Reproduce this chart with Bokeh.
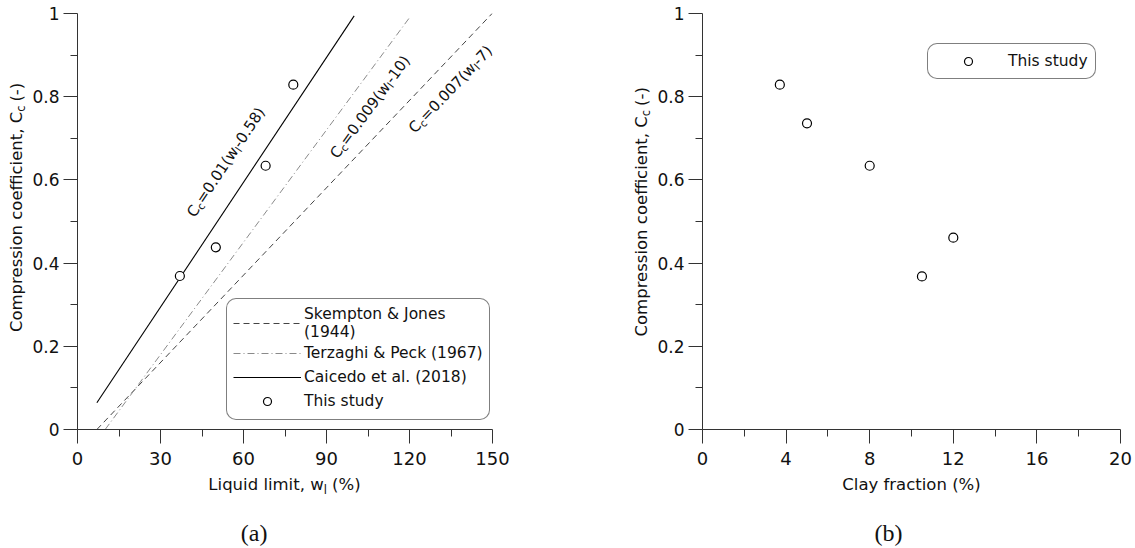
import math
from bokeh.plotting import figure
from bokeh.layouts import row, column
from bokeh.models import Legend, LegendItem, FixedTicker
from bokeh.core.properties import value
from bokeh.embed import file_html
from bokeh.resources import INLINE

# ---------------- data ----------------
wl_ticks = [0, 30, 60, 90, 120, 150]
wl_minor = [15, 45, 75, 105, 135]
clay_ticks = [0, 4, 8, 12, 16, 20]
clay_minor = [2, 6, 10, 14, 18]
cc_ticks = [0, 0.2, 0.4, 0.6, 0.8, 1]
cc_tick_labels = ["0", "0.2", "0.4", "0.6", "0.8", "1"]
cc_minor = [0.1, 0.3, 0.5, 0.7, 0.9]

skempton_wl = [7, 150]
skempton_cc = [0.0, 1.001]
terzaghi_wl = [10, 120]
terzaghi_cc = [0.0, 0.99]
caicedo_wl = [7, 100]
caicedo_cc = [0.0642, 0.9942]

study_wl = [37, 50, 68, 78]
study_cc_a = [0.369, 0.438, 0.634, 0.829]
study_clay = [3.7, 5.0, 8.0, 10.5, 12.0]
study_cc_b = [0.829, 0.736, 0.634, 0.368, 0.461]

legend_labels_a = ["Skempton & Jones\n(1944)", "Terzaghi & Peck (1967)", "Caicedo et al. (2018)", "This study"]
legend_label_b = "This study"

FONT = "DejaVu Sans"
TXT = "#111111"

# DejaVu Sans advance widths (em)
W = {' ': .318, '(': .390, ')': .390, '-': .361, '.': .318, ',': .318, '=': .838, '%': .950,
     'C': .698, 'L': .557, 'c': .550, 'd': .635, 'e': .615, 'f': .352, 'i': .278, 'l': .278,
     'm': .974, 'n': .634, 'o': .612, 'p': .635, 'q': .635, 'r': .411, 's': .521, 't': .392,
     'u': .634, 'w': .818, 'y': .592, 'a': .613, 'b': .635}
for d in "0123456789":
    W[d] = .636


def twidth(s, size):
    return sum(W.get(ch, .6) for ch in s) * size


def to_data(fr, px, py):
    x = fr['x0'] + (px - fr['left']) / (fr['right'] - fr['left']) * (fr['x1'] - fr['x0'])
    y = fr['y0'] + (fr['bottom'] - py) / (fr['bottom'] - fr['top']) * (fr['y1'] - fr['y0'])
    return x, y


def put(p, fr, px, py, t, th, align, fs, font):
    x, y = to_data(fr, px, py)
    p.text(x=[x], y=[y], text=[t], angle=th, text_align=align, text_baseline="alphabetic",
           text_font=value(font), text_font_size=value(f"{fs:.1f}px"), text_color=TXT)


def rich(p, fr, pieces, px, py, angle_deg, size, center=False, font=FONT, lift=0.35, sub=0.22):
    """pieces: (text, is_subscript). A normal piece followed by a subscript is
    right-aligned at the subscript's anchor.  'lift' compensates the renderer's
    downward baseline offset (fraction of the font size)."""
    th = math.radians(angle_deg)
    ux, uy = math.cos(th), -math.sin(th)
    dx, dy = math.sin(th), math.cos(th)
    sizes = [size * (0.7 if s else 1) for _, s in pieces]
    widths = [twidth(t, fs) for (t, _), fs in zip(pieces, sizes)]
    total = sum(widths)
    if center:
        px -= ux * total / 2
        py -= uy * total / 2
    adv = 0.0
    for i, ((t, s), fs, w) in enumerate(zip(pieces, sizes, widths)):
        off = (size * sub if s else 0) - lift * fs
        nxt_sub = i + 1 < len(pieces) and pieces[i + 1][1]
        if nxt_sub and not s:
            a = adv + w
            put(p, fr, px + ux * a + dx * off, py + uy * a + dy * off, t, th, "right", fs, font)
        else:
            lead = len(t) - len(t.lstrip(" "))
            a = adv + twidth(" " * lead, fs)
            put(p, fr, px + ux * a + dx * off, py + uy * a + dy * off, t.lstrip(" "), th, "left", fs, font)
        adv += w


def style(p, xt, xm):
    p.xaxis.ticker = FixedTicker(ticks=xt, minor_ticks=xm)
    p.yaxis.ticker = FixedTicker(ticks=cc_ticks, minor_ticks=cc_minor)
    p.yaxis.major_label_overrides = dict(zip(cc_ticks, cc_tick_labels))
    p.xgrid.visible = False
    p.ygrid.visible = False
    p.outline_line_color = None
    for ax in list(p.xaxis) + list(p.yaxis):
        ax.major_tick_out = 14
        ax.major_tick_in = 0
        ax.minor_tick_out = 7
        ax.minor_tick_in = 0
        ax.axis_line_color = "#333333"
        ax.major_tick_line_color = "#333333"
        ax.minor_tick_line_color = "#333333"
        ax.major_label_text_font = FONT
        ax.major_label_text_color = TXT
    p.xaxis.major_label_text_font_size = "18px"
    p.yaxis.major_label_text_font_size = "17px"
    p.yaxis.major_label_standoff = 4
    p.xaxis.major_label_standoff = 8


def text_fig(w, h):
    f = figure(width=w, height=h, x_range=(0, w), y_range=(0, h), x_axis_type=None, y_axis_type=None,
               output_backend="svg", toolbar_location=None, min_border=0, title=None)
    f.outline_line_color = None
    return f, dict(left=0, right=w, top=0, bottom=h, x0=0, x1=w, y0=0, y1=h)


def line_angle(fr, xs, ys):
    sx = (fr['right'] - fr['left']) / (fr['x1'] - fr['x0'])
    sy = (fr['bottom'] - fr['top']) / (fr['y1'] - fr['y0'])
    return math.degrees(math.atan2((ys[1] - ys[0]) * sy, (xs[1] - xs[0]) * sx))


PH = 473      # plot height (page rows 0..473)
BL = 49       # left border of the plots
YA = 77 - BL          # width of y-label strip (a): page cols 0..28
YB = 702 - 567 - BL   # width of y-label strip (b): page cols 567..653

# ---------------- figure (a) ----------------
# frame at page 77..492 x 13..429
FA = dict(left=BL, right=BL + 415, top=13, bottom=429, x0=0, x1=150, y0=0, y1=1)
pa = figure(width=567 - YA, height=PH, x_range=(0, 150), y_range=(0, 1), output_backend="svg",
            toolbar_location=None, min_border_left=BL, min_border_right=75, min_border_top=13,
            min_border_bottom=PH - 429)
style(pa, wl_ticks, wl_minor)

r_sk = pa.line(skempton_wl, skempton_cc, line_color="#444444", line_width=1, line_dash="6 4")
r_tz = pa.line(terzaghi_wl, terzaghi_cc, line_color="#8a8a8a", line_width=1, line_dash="7 3 1 3")
r_ca = pa.line(caicedo_wl, caicedo_cc, line_color="black", line_width=1.1)
r_st = pa.scatter(study_wl, study_cc_a, marker="circle", size=9, fill_color="white",
                  line_color="black", line_width=1.2)

leg_a = Legend(items=[LegendItem(label=legend_labels_a[0], renderers=[r_sk]),
                      LegendItem(label=legend_labels_a[1], renderers=[r_tz]),
                      LegendItem(label=legend_labels_a[2], renderers=[r_ca]),
                      LegendItem(label=legend_labels_a[3], renderers=[r_st])],
               location=(149, 9), border_line_color="black", border_line_width=1, border_radius=10,
               background_fill_color="white", background_fill_alpha=1, label_text_font=FONT,
               label_text_font_size="15.5px", label_text_color=TXT, label_text_line_height=1.4,
               glyph_width=68, glyph_height=20, label_height=24, label_standoff=3, padding=6,
               spacing=0, margin=0, label_width=178)
pa.add_layout(leg_a)

rich(pa, FA, [("C", 0), ("c", 1), ("=0.01(w", 0), ("l", 1), ("-0.58)", 0)], 190 - YA, 215,
     line_angle(FA, caicedo_wl, caicedo_cc), 15, lift=0)
rich(pa, FA, [("C", 0), ("c", 1), ("=0.009(w", 0), ("l", 1), ("-10)", 0)], 333 - YA, 156,
     line_angle(FA, terzaghi_wl, terzaghi_cc), 15, lift=0)
rich(pa, FA, [("C", 0), ("c", 1), ("=0.007(w", 0), ("l", 1), ("-7)", 0)], 411 - YA, 130,
     line_angle(FA, skempton_wl, skempton_cc), 15, lift=0)

ya, fya = text_fig(YA, PH)
rich(ya, fya, [("Compression coefficient, C", 0), ("c", 1), (" (-)", 0)], 21.5, 207, 90, 16.5,
     center=True, sub=0.2)
xa, fxa = text_fig(567, 548 - PH)
rich(xa, fxa, [("Liquid limit, w", 0), ("l", 1), (" (%)", 0)], 284, 490 - PH, 0, 16.5, center=True)
rich(xa, fxa, [("(a)", 0)], 257, 541 - PH, 0, 24, center=True, font="Liberation Serif")

# ---------------- figure (b) ----------------
# frame at page 702..1120 x 13..429
FB = dict(left=BL, right=BL + 418, top=13, bottom=429, x0=0, x1=20, y0=0, y1=1)
pb = figure(width=568 - YB, height=PH, x_range=(0, 20), y_range=(0, 1), output_backend="svg",
            toolbar_location=None, min_border_left=BL, min_border_right=15, min_border_top=13,
            min_border_bottom=PH - 429)
style(pb, clay_ticks, clay_minor)
r_b = pb.scatter(study_clay, study_cc_b, marker="circle", size=9, fill_color="white",
                 line_color="black", line_width=1.2)
leg_b = Legend(items=[LegendItem(label=legend_label_b, renderers=[r_b])],
               location=(225, 350), border_line_color="black", border_line_width=1, border_radius=10,
               background_fill_color="white", background_fill_alpha=1, label_text_font=FONT,
               label_text_font_size="15.5px", label_text_color=TXT, glyph_width=66, glyph_height=20,
               label_height=20, label_standoff=7, padding=7, spacing=0, margin=0)
pb.add_layout(leg_b)

yb, fyb = text_fig(YB, PH)
rich(yb, fyb, [("Compression coefficient, C", 0), ("c", 1), (" (-)", 0)], 646.5 - 567, 212, 90, 16.5,
     center=True, sub=0.2)
xb, fxb = text_fig(568, 548 - PH)
rich(xb, fxb, [("Clay fraction (%)", 0)], 911 - 567, 490 - PH, 0, 16.5, center=True)
rich(xb, fxb, [("(b)", 0)], 891 - 567, 541 - PH, 0, 24, center=True, font="Liberation Serif")

layout = row(column(row(ya, pa), xa), column(row(yb, pb), xb))
open("out.html", "w").write(file_html(layout, INLINE))
